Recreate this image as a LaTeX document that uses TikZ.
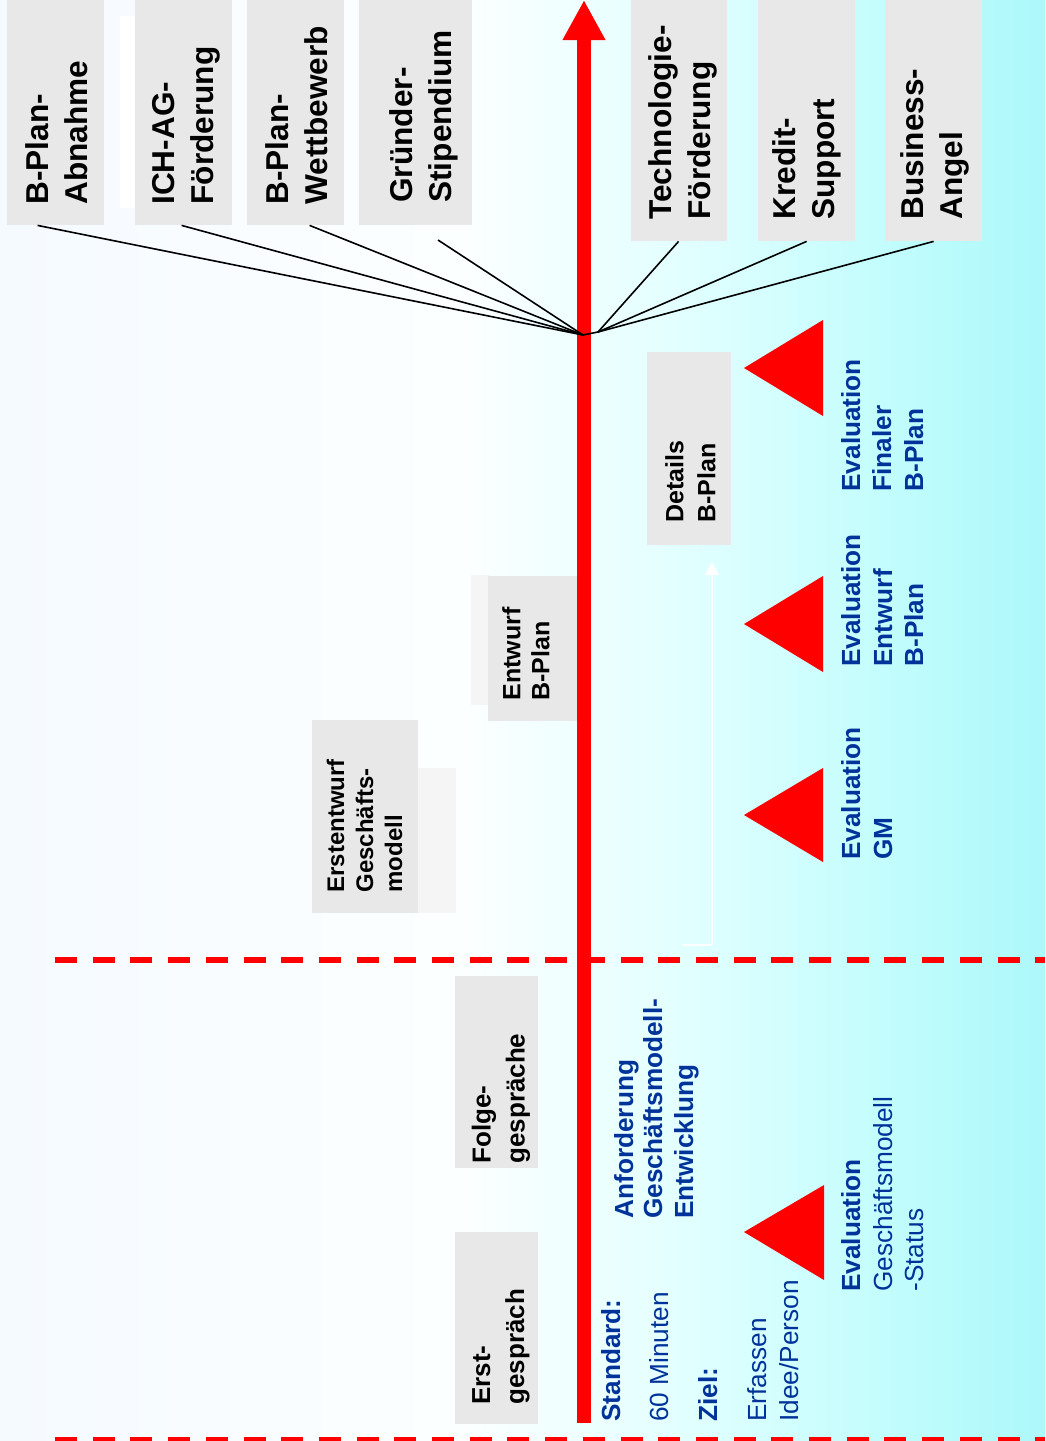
\documentclass[tikz,border=0pt]{standalone}
\usepackage{fontspec}
\setmainfont{Liberation Sans}
\usetikzlibrary{arrows.meta,calc}
\definecolor{gfill}{RGB}{232,232,232}
\definecolor{lfill}{RGB}{245,245,245}
\definecolor{tblue}{RGB}{0,51,153}
\definecolor{bgA}{RGB}{245,250,255}
\definecolor{bgB}{RGB}{252,255,255}
\definecolor{bgC}{RGB}{228,255,255}
\definecolor{bgD}{RGB}{196,253,253}
\definecolor{bgE}{RGB}{172,248,250}
\pgfdeclarehorizontalshading{bgshade}{100bp}{color(0bp)=(bgA); color(25bp)=(bgA); color(47bp)=(bgB); color(57bp)=(bgC); color(67bp)=(bgD); color(75bp)=(bgE); color(100bp)=(bgE)}
\begin{document}
\begin{tikzpicture}[x=0.5pt,y=-0.5pt,
  gbox/.style={rectangle, fill=gfill, draw=none, inner sep=0pt},
  boxtext/.style={rotate=90, inner sep=0pt, align=left, anchor=west, font=\bfseries\fontsize{15.8}{19.7}\selectfont},
  midtext/.style={rotate=90, inner sep=0pt, align=left, anchor=west, font=\bfseries\fontsize{12.5}{14.5}\selectfont},
  lowtext/.style={rotate=90, inner sep=0pt, align=left, anchor=west, font=\bfseries\fontsize{13}{17}\selectfont},
  bluetext/.style={rotate=90, inner sep=0pt, anchor=base west, text=tblue, font=\fontsize{13.1}{15}\selectfont},
  bluebold/.style={bluetext, font=\bfseries\fontsize{13.1}{15}\selectfont},
  redtri/.style={fill=red, draw=none},
  reddash/.style={draw=red, line width=3pt, dash pattern=on 11pt off 7.85pt},
  link/.style={draw=black, line width=0.8pt}]
\useasboundingbox (0,0) rectangle (1045,1441);
\shade[shading=bgshade] (0,0) rectangle (1045,1441);

% dashed separators
\coordinate (dashAL) at (55,960);
\coordinate (dashAR) at (1045,960);
\coordinate (dashBL) at (55,1440);
\coordinate (dashBR) at (1045,1440);
\draw[reddash] (dashAL) -- (dashAR);
\draw[reddash] (dashBL) -- (dashBR);

% faint background rectangles
\fill[white] (120,16) rectangle (135,208);
\fill[lfill] (471,575) rectangle (490,705);
\fill[lfill] (418,768) rectangle (456,913);

% top boxes
\node[gbox, minimum width=48.5pt, minimum height=112.5pt] (abn) at (55.5,112.5) {};
\node[gbox, minimum width=48.5pt, minimum height=112.5pt] (ich) at (183.5,112.5) {};
\node[gbox, minimum width=48.5pt, minimum height=112.5pt] (wett) at (295.5,112.5) {};
\node[gbox, minimum width=56.5pt, minimum height=112.5pt] (gruend) at (415.5,112.5) {};
\node[gbox, minimum width=48pt, minimum height=120.5pt] (tech) at (679,120.5) {};
\node[gbox, minimum width=48.5pt, minimum height=120.5pt] (kred) at (806.5,120.5) {};
\node[gbox, minimum width=48.5pt, minimum height=120.5pt] (bus) at (933.5,120.5) {};

\node[boxtext] (abnT) at (56.5,205) {B-Plan-\\Abnahme};
\node[boxtext] (ichT) at (186.5,205) {ICH-AG-\\Förderung};
\node[boxtext] (wettT) at (296.5,205) {B-Plan-\\Wettbewerb};
\node[boxtext] (gruendT) at (424,203) {Gründer-\\Stipendium};
\node[boxtext] (techT) at (683,220) {Technologie-\\Förderung};
\node[boxtext] (kredT) at (807,220) {Kredit-\\Support};
\node[boxtext] (busT) at (935,220) {Business-\\Angel};

% process boxes
\node[gbox, minimum width=42pt, minimum height=96.5pt] (det) at (689,448.5) {};
\node[gbox, minimum width=44.5pt, minimum height=72.5pt] (ent) at (532.5,648.5) {};
\node[gbox, minimum width=53pt, minimum height=96.5pt] (erst) at (365,816.5) {};
\node[gbox, minimum width=41.5pt, minimum height=96pt] (folge) at (496.5,1072) {};
\node[gbox, minimum width=41.5pt, minimum height=96pt] (erstg) at (496.5,1328) {};

\node[midtext, font=\bfseries\fontsize{12.5}{16}\selectfont] (detT) at (690.5,523) {Details\\B-Plan};
\node[midtext] (entT) at (526,701) {Entwurf\\B-Plan};
\node[midtext, font=\bfseries\fontsize{12}{14.5}\selectfont] (erstT) at (364.5,893) {Erstentwurf\\Geschäfts-\\modell};
\node[lowtext] (folgeT) at (501,1164) {Folge-\\gespräche};
\node[lowtext] (erstgT) at (501,1405) {Erst-\\gespräch};

% red triangles
\fill[redtri] (744,368) -- (823,320) -- (823,416) -- cycle;
\fill[redtri] (744,624) -- (823,576) -- (823,672) -- cycle;
\fill[redtri] (744,815) -- (823,768) -- (823,862) -- cycle;
\fill[redtri] (744,1232) -- (824,1185) -- (824,1280) -- cycle;

% blue texts
\node[bluebold] (std1) at (620,1422) {Standard:};
\node[bluetext] (std2) at (668,1422) {60 Minuten};
\node[bluebold] (std3) at (717,1422) {Ziel:};
\node[bluetext] (std4) at (766,1422) {Erfassen};
\node[bluetext] (std5) at (798,1422) {Idee/Person};

\node[bluebold] (anf1) at (633,1219) {Anforderung};
\node[bluebold] (anf2) at (662,1219) {Geschäftsmodell-};
\node[bluebold] (anf3) at (693,1219) {Entwicklung};

\node[bluebold] (evs1) at (860,1292) {Evaluation};
\node[bluetext] (evs2) at (892,1292) {Geschäftsmodell};
\node[bluetext] (evs3) at (923,1292) {-Status};

\node[bluebold] (evg1) at (860,860) {Evaluation};
\node[bluebold] (evg2) at (892,860) {GM};

\node[bluebold] (eve1) at (860,667) {Evaluation};
\node[bluebold] (eve2) at (892,667) {Entwurf};
\node[bluebold] (eve3) at (923,667) {B-Plan};

\node[bluebold] (evf1) at (860,492) {Evaluation};
\node[bluebold] (evf2) at (891,492) {Finaler};
\node[bluebold] (evf3) at (923,492) {B-Plan};

% faint white arrow
\coordinate (wStart) at (712,945);
\coordinate (wEnd) at (712,562);
\coordinate (wFoot) at (682,945);
\draw[white, line width=1pt, -{Triangle[length=6.5pt,width=7pt]}] (wStart) -- (wEnd);
\draw[white, line width=0.6pt] (wFoot) -- (wStart);

% main red time arrow
\coordinate (tStart) at (584,1423);
\coordinate (tEnd) at (584,0);
\draw[red, line width=7pt, -{Triangle[length=20pt,width=20pt]}] (tStart) -- (tEnd);

% connectors
\coordinate (hubL) at (583,335);
\coordinate (hubR) at (598,332);
\coordinate (gsStart) at (438,240);
\draw[link] ($(abn.south west)+(31,0)$) -- (hubL);
\draw[link] ($(ich.south west)+(47,0)$) -- (hubL);
\draw[link] ($(wett.south west)+(63,0)$) -- (hubL);
\draw[link] (gsStart) -- (hubL);
\draw[link] ($(tech.south west)+(48,0)$) -- (hubR);
\draw[link] ($(kred.south west)+(49,0)$) -- (hubR);
\draw[link] ($(bus.south west)+(49,0)$) -- (hubR);
\draw[link] (hubL) -- (hubR);
\end{tikzpicture}
\end{document}
